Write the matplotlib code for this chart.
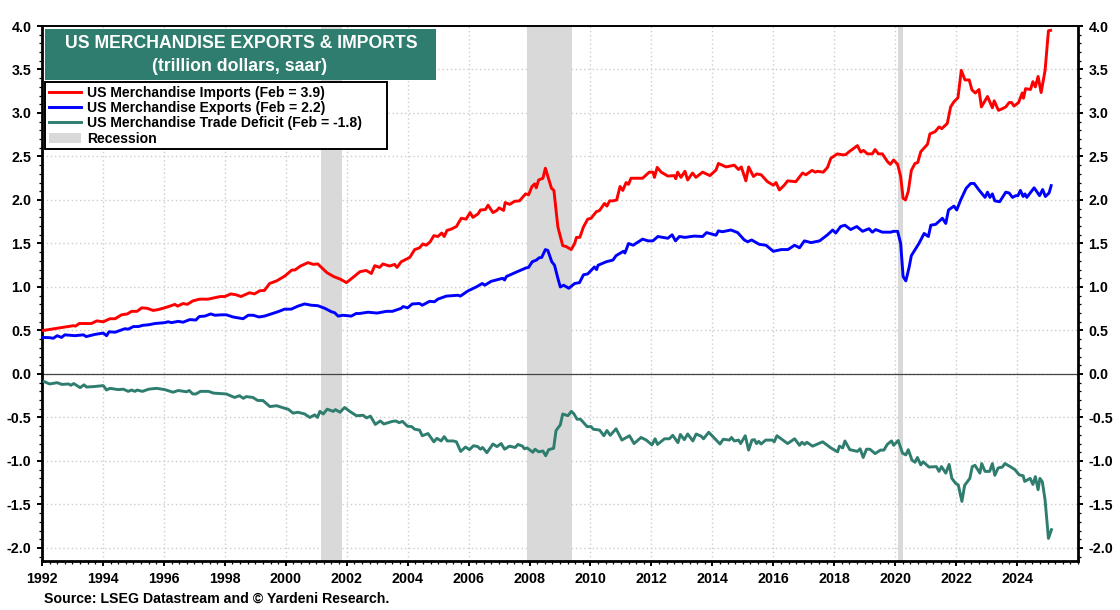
import matplotlib
matplotlib.use("Agg")
import matplotlib.pyplot as plt
from matplotlib.patches import Rectangle
from matplotlib.ticker import MultipleLocator

plt.rcParams['font.family'] = ['Liberation Sans', 'DejaVu Sans']
plt.rcParams['font.weight'] = 'bold'

RED = '#FF0000'
BLUE = '#0000FF'
TEAL = '#2E7D6E'
GREY = '#D9D9D9'

imports_x = [1992.04, 1993.03, 1993.1, 1993.22, 1993.62, 1993.8, 1994.01, 1994.23, 1994.4, 1994.61, 1994.8, 1994.94, 1995.12, 1995.27, 1995.45, 1995.65, 1995.81, 1995.97, 1996.2, 1996.36, 1996.45, 1996.63, 1996.77, 1996.95, 1997.17, 1997.45, 1997.72, 1997.85, 1998.0, 1998.2, 1998.37, 1998.53, 1998.81, 1998.97, 1999.15, 1999.3, 1999.47, 1999.7, 1999.97, 2000.2, 2000.3, 2000.48, 2000.73, 2000.9, 2001.05, 2001.2, 2001.35, 2001.57, 2001.79, 2001.99,
             2002.26, 2002.43, 2002.64, 2002.81, 2002.92, 2003.08, 2003.19, 2003.41, 2003.57, 2003.65, 2003.79, 2003.9, 2004.07, 2004.23, 2004.39, 2004.5, 2004.61, 2004.74, 2004.86, 2004.99, 2005.12, 2005.2, 2005.29, 2005.43, 2005.6, 2005.76, 2005.92, 2006.05, 2006.14, 2006.31, 2006.39, 2006.55, 2006.64, 2006.8, 2006.93, 2007.0, 2007.15, 2007.2, 2007.35, 2007.51, 2007.67, 2007.87, 2007.97, 2008.08, 2008.17, 2008.22, 2008.3, 2008.44, 2008.52, 2008.72, 2008.8, 2008.93, 2009.09, 2009.2, 2009.37, 2009.48, 2009.54, 2009.65, 2009.77, 2009.91, 2010.02, 2010.19, 2010.3, 2010.46, 2010.54, 2010.63, 2010.74, 2010.86, 2010.97,
             2011.06, 2011.17, 2011.25, 2011.33, 2011.71, 2011.93, 2012.05, 2012.1, 2012.19, 2012.32, 2012.54, 2012.75, 2012.8, 2012.86, 2012.97, 2013.1, 2013.19, 2013.35, 2013.46, 2013.68, 2013.92, 2014.12, 2014.2, 2014.45, 2014.72, 2014.86, 2014.95, 2015.1, 2015.19, 2015.35, 2015.46, 2015.6, 2015.81, 2016.0, 2016.09, 2016.2, 2016.36, 2016.47, 2016.74, 2016.96, 2017.07, 2017.27, 2017.38, 2017.45, 2017.64, 2017.78, 2017.89, 2018.1, 2018.26, 2018.37, 2018.49, 2018.76, 2018.87, 2018.96, 2019.09, 2019.25, 2019.34, 2019.45, 2019.58, 2019.75, 2019.84, 2019.95, 2020.08, 2020.18, 2020.26, 2020.34, 2020.43, 2020.53, 2020.65, 2020.74, 2020.84,
             2021.06, 2021.14, 2021.31, 2021.44, 2021.53, 2021.71, 2021.82, 2021.93, 2022.06, 2022.17, 2022.29, 2022.43, 2022.52, 2022.63, 2022.75, 2022.83, 2023.03, 2023.19, 2023.25, 2023.39, 2023.52, 2023.63, 2023.74, 2023.82, 2023.9, 2024.05, 2024.17, 2024.21, 2024.28, 2024.44, 2024.52, 2024.6, 2024.69, 2024.79, 2024.92, 2025.03, 2025.1]
imports_y = [0.50, 0.555, 0.55, 0.58, 0.58, 0.61, 0.60, 0.635, 0.635, 0.68, 0.69, 0.72, 0.72, 0.76, 0.755, 0.73, 0.74, 0.755, 0.78, 0.80, 0.78, 0.81, 0.80, 0.84, 0.86, 0.86, 0.88, 0.89, 0.89, 0.92, 0.91, 0.89, 0.934, 0.92, 0.957, 0.96, 1.04, 1.07, 1.126, 1.195, 1.195, 1.24, 1.28, 1.26, 1.265, 1.215, 1.165, 1.12, 1.09, 1.05,
             1.125, 1.175, 1.19, 1.155, 1.245, 1.225, 1.265, 1.24, 1.26, 1.225, 1.29, 1.31, 1.34, 1.43, 1.45, 1.495, 1.48, 1.52, 1.59, 1.58, 1.62, 1.58, 1.65, 1.665, 1.695, 1.79, 1.78, 1.855, 1.80, 1.84, 1.885, 1.89, 1.94, 1.855, 1.88, 1.91, 1.88, 1.97, 1.95, 1.985, 1.99, 2.07, 2.06, 2.155, 2.185, 2.14, 2.23, 2.25, 2.365, 2.135, 2.11, 1.69, 1.475, 1.465, 1.43, 1.50, 1.57, 1.57, 1.69, 1.78, 1.79, 1.865, 1.88, 1.96, 1.93, 1.99, 1.99, 2.0, 2.155,
             2.11, 2.2, 2.18, 2.25, 2.25, 2.32, 2.32, 2.26, 2.375, 2.32, 2.275, 2.28, 2.245, 2.32, 2.26, 2.33, 2.23, 2.31, 2.26, 2.32, 2.28, 2.345, 2.42, 2.38, 2.40, 2.35, 2.38, 2.22, 2.38, 2.27, 2.30, 2.29, 2.21, 2.17, 2.2, 2.115, 2.17, 2.22, 2.21, 2.31, 2.29, 2.34, 2.32, 2.33, 2.32, 2.375, 2.48, 2.53, 2.52, 2.52, 2.555, 2.625, 2.55, 2.57, 2.53, 2.53, 2.58, 2.53, 2.53, 2.44, 2.41, 2.46, 2.41, 2.27, 2.02, 2.0, 2.1, 2.34, 2.42, 2.43, 2.555,
             2.64, 2.76, 2.785, 2.84, 2.82, 2.88, 3.07, 3.13, 3.175, 3.49, 3.38, 3.38, 3.265, 3.23, 3.27, 3.07, 3.19, 3.06, 3.14, 3.03, 3.05, 3.07, 3.12, 3.12, 3.08, 3.12, 3.23, 3.17, 3.28, 3.27, 3.36, 3.30, 3.42, 3.235, 3.49, 3.945, 3.95]

exports_x = [1992.04, 1992.26, 1992.37, 1992.5, 1992.64, 1992.75, 1993.08, 1993.36, 1993.45, 1993.74, 1994.01, 1994.12, 1994.2, 1994.4, 1994.72, 1994.83, 1995.0, 1995.16, 1995.32, 1995.49, 1995.71, 1996.03, 1996.14, 1996.25, 1996.47, 1996.63, 1996.85, 1997.05, 1997.16, 1997.34, 1997.54, 1997.67, 1997.89, 1998.05, 1998.27, 1998.6, 1998.77, 1998.93, 1999.12, 1999.3, 1999.52, 1999.74, 1999.96, 2000.18, 2000.4, 2000.62, 2000.84, 2001.05, 2001.28, 2001.5, 2001.6, 2001.72, 2001.88, 2002.15, 2002.31, 2002.42,
             2002.7, 2003.0, 2003.3, 2003.5, 2003.79, 2003.85, 2004.0, 2004.15, 2004.39, 2004.48, 2004.72, 2004.88, 2004.99, 2005.27, 2005.65, 2005.73, 2005.98, 2006.25, 2006.45, 2006.53, 2006.74, 2007.12, 2007.18, 2007.24, 2007.4, 2007.56, 2007.89, 2007.97, 2008.09, 2008.23, 2008.31, 2008.4, 2008.52, 2008.6, 2008.73, 2008.82, 2008.93, 2009.01, 2009.12, 2009.29, 2009.48, 2009.64, 2009.77, 2009.91, 2010.13, 2010.2, 2010.25, 2010.52, 2010.74, 2010.84, 2011.08, 2011.13, 2011.25, 2011.4, 2011.71, 2011.89, 2012.05, 2012.21, 2012.54, 2012.68, 2012.79, 2012.92,
             2013.1, 2013.4, 2013.68, 2013.81, 2014.12, 2014.2, 2014.33, 2014.61, 2014.83, 2015.05, 2015.16, 2015.29, 2015.54, 2015.76, 2016.0, 2016.26, 2016.48, 2016.7, 2016.86, 2017.02, 2017.24, 2017.52, 2017.78, 2017.95, 2018.05, 2018.21, 2018.35, 2018.54, 2018.74, 2018.93, 2019.14, 2019.25, 2019.36, 2019.58, 2019.85, 2019.95, 2020.08, 2020.18, 2020.26, 2020.35, 2020.46, 2020.53, 2020.78, 2020.95, 2021.09, 2021.17, 2021.33, 2021.55, 2021.66, 2021.75, 2021.93, 2022.02, 2022.15, 2022.33, 2022.48, 2022.59, 2022.75, 2022.95, 2023.03, 2023.11, 2023.19, 2023.27, 2023.43, 2023.63, 2023.74, 2023.85, 2023.96, 2024.03, 2024.11, 2024.2, 2024.26, 2024.32, 2024.43, 2024.56, 2024.74, 2024.84, 2024.93, 2025.05, 2025.12]
exports_y = [0.42, 0.417, 0.41, 0.44, 0.42, 0.45, 0.44, 0.45, 0.43, 0.455, 0.47, 0.44, 0.485, 0.48, 0.52, 0.515, 0.545, 0.545, 0.56, 0.565, 0.58, 0.59, 0.60, 0.59, 0.605, 0.595, 0.625, 0.62, 0.66, 0.665, 0.69, 0.675, 0.68, 0.68, 0.655, 0.635, 0.675, 0.675, 0.655, 0.665, 0.69, 0.715, 0.745, 0.745, 0.78, 0.805, 0.79, 0.785, 0.755, 0.715, 0.705, 0.665, 0.675, 0.665, 0.695, 0.695,
             0.71, 0.70, 0.72, 0.72, 0.755, 0.775, 0.76, 0.805, 0.81, 0.79, 0.835, 0.83, 0.86, 0.895, 0.905, 0.895, 0.955, 1.0, 1.04, 1.02, 1.065, 1.10, 1.08, 1.12, 1.145, 1.17, 1.22, 1.225, 1.29, 1.31, 1.335, 1.34, 1.43, 1.42, 1.29, 1.25, 1.10, 1.0, 1.02, 0.985, 1.04, 1.05, 1.14, 1.15, 1.23, 1.20, 1.25, 1.29, 1.31, 1.36, 1.41, 1.39, 1.50, 1.48, 1.55, 1.53, 1.53, 1.58, 1.56, 1.60, 1.53, 1.58,
             1.57, 1.585, 1.58, 1.625, 1.595, 1.645, 1.635, 1.655, 1.625, 1.54, 1.52, 1.54, 1.49, 1.48, 1.41, 1.43, 1.43, 1.48, 1.45, 1.53, 1.51, 1.53, 1.60, 1.655, 1.62, 1.695, 1.71, 1.66, 1.695, 1.64, 1.67, 1.63, 1.66, 1.63, 1.63, 1.64, 1.64, 1.50, 1.12, 1.07, 1.23, 1.36, 1.50, 1.615, 1.58, 1.71, 1.72, 1.79, 1.73, 1.885, 1.93, 1.885, 2.0, 2.135, 2.19, 2.19, 2.115, 2.03, 2.09, 2.03, 2.07, 1.99, 1.98, 2.09, 2.08, 2.03, 2.05, 2.05, 2.11, 2.04, 2.07, 2.03, 2.08, 2.14, 2.05, 2.12, 2.04, 2.08, 2.165]

deficit_x = [1992.07, 1992.25, 1992.5, 1992.65, 1992.87, 1992.95, 1993.04, 1993.25, 1993.38, 1993.46, 1993.7, 1994.01, 1994.12, 1994.23, 1994.5, 1994.67, 1994.83, 1994.94, 1995.05, 1995.12, 1995.3, 1995.5, 1995.76, 1996.03, 1996.3, 1996.47, 1996.75, 1996.83, 1996.95, 1997.05, 1997.2, 1997.46, 1997.63, 1997.85, 1998.05, 1998.32, 1998.48, 1998.61, 1998.7, 1998.92, 1999.08, 1999.25, 1999.48, 1999.7, 1999.97, 2000.08, 2000.24, 2000.4, 2000.62, 2000.79, 2000.95, 2001.04, 2001.12, 2001.23, 2001.36, 2001.56, 2001.63, 2001.78, 2001.93,
             2002.1, 2002.32, 2002.54, 2002.65, 2002.78, 2002.94, 2003.1, 2003.22, 2003.5, 2003.61, 2003.72, 2003.83, 2003.99, 2004.13, 2004.23, 2004.39, 2004.48, 2004.67, 2004.86, 2004.96, 2005.1, 2005.2, 2005.3, 2005.5, 2005.6, 2005.74, 2005.9, 2006.03, 2006.16, 2006.3, 2006.39, 2006.46, 2006.6, 2006.8, 2006.93, 2007.07, 2007.18, 2007.34, 2007.53, 2007.62, 2007.77, 2007.83, 2007.92, 2008.11, 2008.18, 2008.3, 2008.44, 2008.53, 2008.63, 2008.79, 2008.87, 2009.01, 2009.09, 2009.26, 2009.37, 2009.45, 2009.56, 2009.67, 2009.75, 2009.89, 2010.02, 2010.09, 2010.3, 2010.44, 2010.54, 2010.65, 2010.84,
             2011.03, 2011.28, 2011.43, 2011.66, 2011.83, 2012.02, 2012.12, 2012.2, 2012.43, 2012.59, 2012.7, 2012.87, 2012.95, 2013.08, 2013.19, 2013.36, 2013.47, 2013.63, 2013.71, 2013.88, 2014.14, 2014.25, 2014.36, 2014.56, 2014.63, 2014.72, 2014.86, 2014.93, 2015.08, 2015.19, 2015.3, 2015.38, 2015.45, 2015.52, 2015.6, 2015.75, 2015.97, 2016.03, 2016.12, 2016.47, 2016.7, 2016.86, 2016.94, 2017.03, 2017.1, 2017.29, 2017.62, 2017.89, 2018.11, 2018.17, 2018.28, 2018.35, 2018.51, 2018.76, 2018.85, 2018.95, 2019.06, 2019.17, 2019.34, 2019.52, 2019.63, 2019.74, 2019.88, 2019.95, 2020.1, 2020.24, 2020.35, 2020.43, 2020.55, 2020.65, 2020.73, 2020.84, 2020.92, 2021.11, 2021.35, 2021.44, 2021.52, 2021.66, 2021.77, 2021.86, 2021.99, 2022.07, 2022.19, 2022.28, 2022.45, 2022.53, 2022.62, 2022.78, 2022.84, 2022.95, 2023.1, 2023.19, 2023.27, 2023.38, 2023.52, 2023.6, 2023.8, 2023.93, 2024.07, 2024.2, 2024.25, 2024.43, 2024.52, 2024.6, 2024.69, 2024.75, 2024.83, 2024.92, 2025.03, 2025.13]
deficit_y = [-0.088, -0.115, -0.10, -0.12, -0.115, -0.13, -0.11, -0.157, -0.125, -0.15, -0.145, -0.134, -0.184, -0.165, -0.18, -0.175, -0.20, -0.185, -0.20, -0.185, -0.20, -0.175, -0.165, -0.18, -0.21, -0.19, -0.205, -0.19, -0.23, -0.23, -0.20, -0.20, -0.22, -0.225, -0.23, -0.27, -0.25, -0.28, -0.26, -0.27, -0.305, -0.305, -0.375, -0.365, -0.395, -0.405, -0.45, -0.44, -0.46, -0.50, -0.47, -0.50, -0.43, -0.46, -0.405, -0.43, -0.41, -0.44, -0.385,
             -0.43, -0.48, -0.475, -0.505, -0.485, -0.58, -0.54, -0.575, -0.545, -0.54, -0.56, -0.545, -0.60, -0.605, -0.635, -0.645, -0.71, -0.685, -0.78, -0.74, -0.77, -0.72, -0.77, -0.77, -0.78, -0.89, -0.84, -0.87, -0.825, -0.835, -0.865, -0.845, -0.905, -0.805, -0.835, -0.80, -0.865, -0.83, -0.845, -0.81, -0.83, -0.86, -0.85, -0.90, -0.865, -0.895, -0.885, -0.94, -0.87, -0.855, -0.65, -0.585, -0.46, -0.48, -0.43, -0.455, -0.52, -0.52, -0.55, -0.605, -0.605, -0.635, -0.645, -0.71, -0.65, -0.705, -0.63,
             -0.76, -0.71, -0.80, -0.73, -0.76, -0.815, -0.745, -0.81, -0.745, -0.745, -0.705, -0.79, -0.695, -0.755, -0.69, -0.77, -0.69, -0.715, -0.745, -0.67, -0.765, -0.805, -0.75, -0.76, -0.73, -0.77, -0.76, -0.80, -0.71, -0.875, -0.76, -0.755, -0.80, -0.775, -0.805, -0.76, -0.76, -0.78, -0.71, -0.80, -0.745, -0.82, -0.785, -0.81, -0.785, -0.83, -0.78, -0.85, -0.895, -0.83, -0.85, -0.77, -0.87, -0.89, -0.86, -0.96, -0.865, -0.865, -0.915, -0.875, -0.875, -0.81, -0.77, -0.82, -0.765, -0.91, -0.93, -0.87, -0.99, -1.015, -0.96, -1.045, -1.01, -1.07, -1.065, -1.12, -1.065, -1.14, -1.04, -1.2, -1.26, -1.275, -1.465, -1.28, -1.2, -1.065, -1.05, -1.14, -1.03, -1.12, -1.12, -1.03, -1.165, -1.08, -1.07, -1.03, -1.07, -1.10, -1.16, -1.17, -1.235, -1.2, -1.27, -1.18, -1.33, -1.2, -1.24, -1.45, -1.89, -1.79]

recessions = [(2001.17, 2001.85), (2007.92, 2009.40), (2020.08, 2020.25)]
y_ticks = [-2.0, -1.5, -1.0, -0.5, 0.0, 0.5, 1.0, 1.5, 2.0, 2.5, 3.0, 3.5, 4.0]
x_ticks = list(range(1992, 2026, 2))

imports_label = 'US Merchandise Imports (Feb = 3.9)'
exports_label = 'US Merchandise Exports (Feb = 2.2)'
deficit_label = 'US Merchandise Trade Deficit (Feb = -1.8)'

W, H = 1120, 610
fig = plt.figure(figsize=(W / 100, H / 100), dpi=100)
ax = fig.add_axes([42 / W, 1 - 561 / H, (1078 - 42) / W, (561 - 26) / H])

for i, (start, end) in enumerate(recessions):
    ax.axvspan(start, end, color=GREY, lw=0, zorder=1, label='Recession' if i == 0 else None)

ax.axhline(0, color='#444444', lw=0.9, zorder=2)
ax.plot(imports_x, imports_y, color=RED, lw=2.1, zorder=3, label=imports_label)
ax.plot(exports_x, exports_y, color=BLUE, lw=2.1, zorder=3, label=exports_label)
ax.plot(deficit_x, deficit_y, color=TEAL, lw=2.1, zorder=3, label=deficit_label)

ax.set_xlim(1992, 2026)
ax.set_ylim(-2.15, 4.0)
ax.set_xticks(x_ticks)
ax.set_yticks(y_ticks)
ax.set_yticklabels([f'{v:.1f}' for v in y_ticks])
ax.xaxis.set_minor_locator(MultipleLocator(0.25))
ax.yaxis.set_minor_locator(MultipleLocator(0.1))
ax.grid(True, which='major', color='#CCCCCC', ls=(0, (1, 2)), lw=1.0, zorder=0)
ax.set_axisbelow(True)

ax.tick_params(axis='both', which='major', labelsize=10.3, length=3.6, width=1.4, pad=4, colors='black')
ax.tick_params(axis='both', which='minor', length=2, width=0.9)
ax.tick_params(axis='y', which='both', left=True, right=True, labelleft=True, labelright=True)
for side in ['left', 'right', 'bottom']:
    ax.spines[side].set_linewidth(2.0)
ax.spines['top'].set_linewidth(1.4)

# title box and text sit over the plot, in figure pixels
fig.add_artist(Rectangle((45 / W, 1 - 80 / H), (436 - 45) / W, (80 - 29) / H,
                         transform=fig.transFigure, fc=TEAL, ec='none', zorder=5))
fig.text(241 / W, 1 - 43 / H, 'US MERCHANDISE EXPORTS & IMPORTS', color='white', fontsize=12.7,
         ha='center', va='center', zorder=6)
fig.text(240 / W, 1 - 66.5 / H, '(trillion dollars, saar)', color='white', fontsize=12.7,
         ha='center', va='center', zorder=6)

handles, labels = ax.get_legend_handles_labels()
order = [labels.index(imports_label), labels.index(exports_label), labels.index(deficit_label), labels.index('Recession')]
leg = ax.legend([handles[i] for i in order], [labels[i] for i in order],
                loc='upper left', bbox_to_anchor=(45 / W, 1 - 149 / H, 342 / W, 67 / H),
                bbox_transform=fig.transFigure, mode='expand',
                prop={'size': 10.12, 'weight': 'bold'}, fancybox=False, framealpha=1, edgecolor='black',
                borderaxespad=0, borderpad=0.25, labelspacing=0.1, handlelength=2.3, handletextpad=0.43)
leg.get_frame().set_linewidth(1.4)
leg.set_zorder(7)

fig.text(44 / W, 1 - 599 / H, 'Source: LSEG Datastream and © Yardeni Research.', fontsize=10.16,
         ha='left', va='center')

fig.savefig('out.png', dpi=100)
